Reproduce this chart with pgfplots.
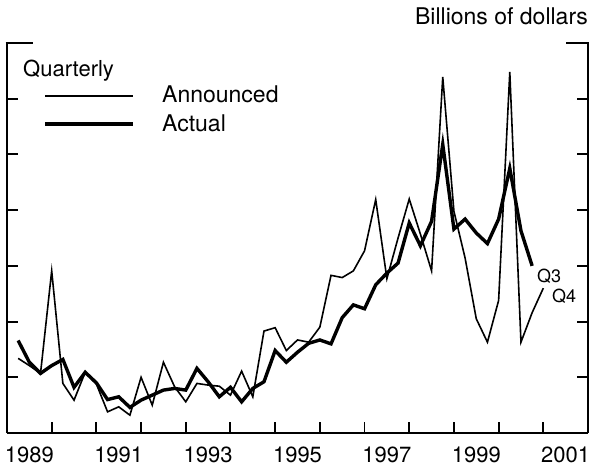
\documentclass[border=0pt]{standalone}
\usepackage{fontspec}
\setmainfont{TeX Gyre Heros}
\usepackage{pgfplots}
\pgfplotsset{compat=1.18}
\begin{document}
\fontsize{22}{26}\selectfont
\begin{tikzpicture}
\useasboundingbox (-7pt,-36pt) rectangle (586pt,433pt);
\begin{axis}[
  at={(0pt,0pt)}, anchor=south west,
  scale only axis, width=581pt, height=390pt,
  xmin=1989, xmax=2002, ymin=0, ymax=7,
  axis x line*=bottom, axis y line*=box,
  axis line style={line width=2.6pt, black},
  xtick={1990,...,2001}, xticklabels={},
  ytick={1,...,6}, yticklabels={},
  tick align=inside, major tick length=11pt,
  tick style={line width=1.9pt, black},
  extra x ticks={1989.5,1991.5,1993.5,1995.5,1997.5,1999.5,2001.5},
  extra x tick labels={1989,1991,1993,1995,1997,1999,2001},
  extra x tick style={major tick length=0pt, tick style={draw=none}},
  x tick label style={inner sep=0pt, anchor=north, yshift=-14pt, font=\fontsize{22}{26}\selectfont},
  clip=false,
]
% Announced (thin)
\addplot[black, line width=1.6pt, line join=miter] coordinates {
(1989.25,1.34) (1989.50,1.21) (1989.75,1.07) (1990.00,2.91)
(1990.25,0.89) (1990.50,0.59) (1990.75,1.09) (1991.00,0.88)
(1991.25,0.38) (1991.50,0.47) (1991.75,0.32) (1992.00,1.00)
(1992.25,0.50) (1992.50,1.27) (1992.75,0.83) (1993.00,0.56)
(1993.25,0.89) (1993.50,0.86) (1993.75,0.84) (1994.00,0.68)
(1994.25,1.11) (1994.50,0.65) (1994.75,1.83) (1995.00,1.89)
(1995.25,1.48) (1995.50,1.67) (1995.75,1.63) (1996.00,1.90)
(1996.25,2.83) (1996.50,2.79) (1996.75,2.91) (1997.00,3.27)
(1997.25,4.19) (1997.50,2.77) (1997.75,3.50) (1998.00,4.20)
(1998.25,3.57) (1998.50,2.91) (1998.75,6.39) (1999.00,3.98)
(1999.25,3.14) (1999.50,2.05) (1999.75,1.63) (2000.00,2.38)
(2000.25,6.48) (2000.50,1.63) (2000.75,2.16) (2001.00,2.60)
};
% Actual (thick)
\addplot[black, line width=3.4pt, line join=miter] coordinates {
(1989.25,1.66) (1989.50,1.27) (1989.75,1.07) (1990.00,1.21)
(1990.25,1.32) (1990.50,0.82) (1990.75,1.09) (1991.00,0.90)
(1991.25,0.60) (1991.50,0.65) (1991.75,0.46) (1992.00,0.59)
(1992.25,0.68) (1992.50,0.77) (1992.75,0.80) (1993.00,0.77)
(1993.25,1.16) (1993.50,0.92) (1993.75,0.65) (1994.00,0.82)
(1994.25,0.56) (1994.50,0.80) (1994.75,0.92) (1995.00,1.48)
(1995.25,1.27) (1995.50,1.45) (1995.75,1.61) (1996.00,1.67)
(1996.25,1.60) (1996.50,2.07) (1996.75,2.30) (1997.00,2.23)
(1997.25,2.66) (1997.50,2.87) (1997.75,3.05) (1998.00,3.77)
(1998.25,3.36) (1998.50,3.80) (1998.75,5.18) (1999.00,3.66)
(1999.25,3.84) (1999.50,3.59) (1999.75,3.40) (2000.00,3.84)
(2000.25,4.75) (2000.50,3.63) (2000.75,3.00)
};
\end{axis}
% top corner segments
\draw[line width=2.6pt] (-1.3pt,390pt) -- (26pt,390pt);
\draw[line width=2.6pt] (559pt,390pt) -- (582.3pt,390pt);
% title
\node[anchor=base east, inner sep=0pt, font=\fontsize{23}{27}\selectfont] at (581pt,408pt) {Billions of dollars};
% legend
\node[anchor=base west, inner sep=0pt] at (16pt,356pt) {Quarterly};
\draw[line width=1.6pt] (38pt,337pt) -- (126pt,337pt);
\node[anchor=base west, inner sep=0pt, font=\fontsize{23}{27}\selectfont] at (155pt,330pt) {Announced};
\draw[line width=3.4pt] (38pt,309pt) -- (126pt,309pt);
\node[anchor=base west, inner sep=0pt, font=\fontsize{23}{27}\selectfont] at (155pt,301pt) {Actual};
% series end labels
\node[anchor=base west, inner sep=0pt, font=\fontsize{18}{20}\selectfont] at (530pt,151pt) {Q3};
\node[anchor=base west, inner sep=0pt, font=\fontsize{18}{20}\selectfont] at (545pt,131pt) {Q4};
\end{tikzpicture}
\end{document}
